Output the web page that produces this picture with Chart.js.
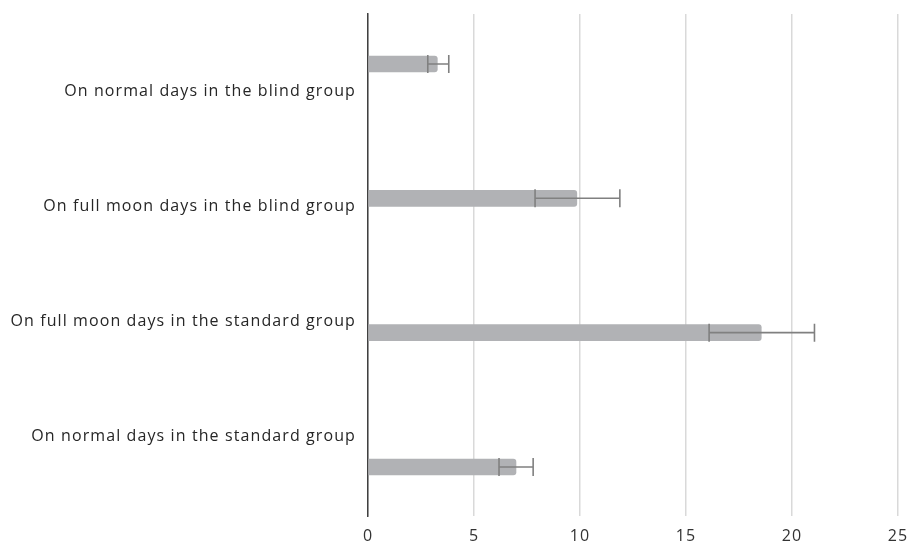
<!DOCTYPE html>
<html>
<head>
<meta charset="utf-8">
<script src="https://cdn.jsdelivr.net/npm/chart.js@4/dist/chart.umd.min.js"></script>
<style>
  html, body { margin: 0; padding: 0; background: #fff; }
  #wrap { width: 909px; height: 544px; }
</style>
</head>
<body>
<div id="wrap"><canvas id="chart" width="909" height="544"></canvas></div>
<script>
// categories, top to bottom
const categories = [
    'On normal days in the blind group',
    'On full moon days in the blind group',
    'On full moon days in the standard group',
    'On normal days in the standard group'
];
const means = [3.27, 9.85, 18.55, 6.98];
const errLow = [2.82, 7.88, 16.09, 6.18];
const errHigh = [3.81, 11.88, 21.06, 7.79];
const xTicks = [0, 5, 10, 15, 20, 25];

// spaced-out text like the original
const spacing = {
    id: 'spacing',
    beforeInit(chart) { chart.ctx.letterSpacing = '1.1px'; },
    beforeDraw(chart) { chart.ctx.letterSpacing = '1.1px'; }
};

// error bars drawn on top of the bars
const errorBars = {
    id: 'errorBars',
    afterDatasetsDraw(chart) {
        const ctx = chart.ctx;
        const xs = chart.scales.x;
        const meta = chart.getDatasetMeta(0);
        ctx.save();
        ctx.strokeStyle = '#808080';
        ctx.lineWidth = 1.6;
        meta.data.forEach((bar, i) => {
            const y = bar.y;
            const x1 = xs.getPixelForValue(errLow[i]);
            const x2 = xs.getPixelForValue(errHigh[i]);
            ctx.beginPath();
            ctx.moveTo(x1, y);
            ctx.lineTo(x2, y);
            ctx.moveTo(x1, y - 9);
            ctx.lineTo(x1, y + 9);
            ctx.moveTo(x2, y - 9);
            ctx.lineTo(x2, y + 9);
            ctx.stroke();
        });
        ctx.restore();
    }
};

new Chart(document.getElementById('chart').getContext('2d'), {
    type: 'bar',
    data: {
        datasets: [{
            data: means.map((v, i) => ({ x: v, y: i })),
            backgroundColor: '#b1b2b5',
            borderRadius: 3,
            barThickness: 16,
            yAxisID: 'y'
        }]
    },
    options: {
        indexAxis: 'y',
        responsive: false,
        animation: false,
        layout: { padding: { top: 14, right: 11, bottom: 0, left: 0 } },
        plugins: {
            legend: { display: false },
            tooltip: { enabled: false }
        },
        scales: {
            x: {
                type: 'linear',
                min: 0,
                max: 25,
                afterBuildTicks: s => { s.ticks = xTicks.map(v => ({ value: v })); },
                afterFit: s => {
                    s.height = 28;
                    s.paddingRight = 0;
                    s.paddingLeft = 0;
                },
                grid: {
                    color: '#d9d9d9',
                    lineWidth: 1.5,
                    drawTicks: false
                },
                border: { display: false },
                ticks: {
                    color: '#333333',
                    padding: 11,
                    font: { family: 'Open Sans', size: 16 }
                }
            },
            y: {
                type: 'linear',
                display: false,
                offset: false,
                reverse: true,
                min: -0.372,
                max: 3.365
            },
            yLabels: {
                type: 'linear',
                position: 'left',
                offset: false,
                reverse: true,
                min: -0.670,
                max: 3.695,
                afterBuildTicks: s => { s.ticks = categories.map((c, i) => ({ value: i })); },
                afterFit: s => {
                    s.width = 368;
                    s.paddingTop = 0;
                    s.paddingBottom = 0;
                },
                grid: { display: false, drawTicks: false, offset: false },
                border: { display: true, color: '#404040', width: 1.5 },
                ticks: {
                    color: '#262626',
                    padding: 12,
                    font: { family: 'Open Sans', size: 16 },
                    callback: (v) => categories[v]
                }
            }
        }
    },
    plugins: [spacing, errorBars]
});
</script>
</body>
</html>
